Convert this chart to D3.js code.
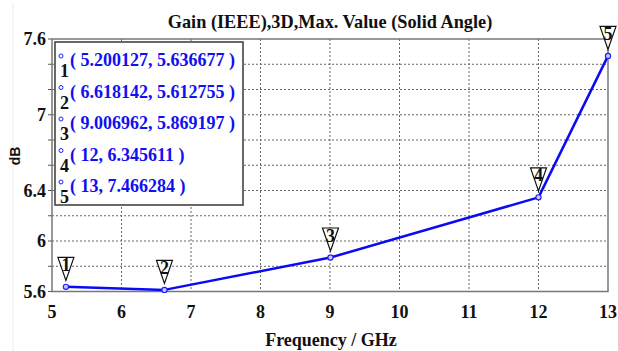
<!DOCTYPE html>
<html>
<head>
<meta charset="utf-8">
<script src="https://cdn.jsdelivr.net/npm/d3@7"></script>
<style>
  html, body { margin: 0; padding: 0; background: #fff; }
  svg { display: block; }
</style>
</head>
<body>
<svg id="chart" width="618" height="351" font-family="Liberation Serif, Times New Roman, serif" font-weight="bold"></svg>
<script>
// Marker frequencies (GHz) and gain values (dB)
const freqGHz = [5.200127, 6.618142, 9.006962, 12, 13];
const gainDb  = [5.636677, 5.612755, 5.869197, 6.345611, 7.466284];
const markerIds = ["1", "2", "3", "4", "5"];
const legendLabels = [
  "( 5.200127, 5.636677 )",
  "( 6.618142, 5.612755 )",
  "( 9.006962, 5.869197 )",
  "( 12, 6.345611 )",
  "( 13, 7.466284 )"
];
const xTicks = [5, 6, 7, 8, 9, 10, 11, 12, 13];
const yTickLabels = [5.6, 6, 6.4, 7, 7.6];
const yGrid = [5.8, 6.0, 6.2, 6.4, 6.6, 6.8, 7.0, 7.2, 7.4];

const FONT = "Liberation Serif";
const svg = d3.select("#chart");
const plot = { left: 52, right: 608, top: 39, bottom: 291.5 };

const x = d3.scaleLinear().domain([5, 13]).range([plot.left, plot.right]);
const y = d3.scaleLinear().domain([5.6, 7.6]).range([plot.bottom, plot.top]);

// faint page edge line
svg.append("line")
  .attr("x1", 13).attr("x2", 13).attr("y1", 3).attr("y2", 351)
  .attr("stroke", "#ececec").attr("stroke-width", 1);

// dotted grid
const grid = svg.append("g");
grid.selectAll("line.vg").data(xTicks.slice(1, -1)).join("line")
  .attr("x1", d => x(d)).attr("x2", d => x(d))
  .attr("y1", plot.top).attr("y2", plot.bottom)
  .attr("stroke", "#666").attr("stroke-width", 1).attr("stroke-dasharray", "2,2");
grid.selectAll("line.hg").data(yGrid).join("line")
  .attr("x1", plot.left).attr("x2", plot.right)
  .attr("y1", d => y(d)).attr("y2", d => y(d))
  .attr("stroke", "#666").attr("stroke-width", 1).attr("stroke-dasharray", "2,2");

// small outward ticks on the left edge
grid.selectAll("line.lt").data(yGrid.concat([5.6, 7.6])).join("line")
  .attr("x1", plot.left - 4).attr("x2", plot.left)
  .attr("y1", d => y(d)).attr("y2", d => y(d))
  .attr("stroke", "#555").attr("stroke-width", 1);

// frame
svg.append("rect")
  .attr("x", plot.left).attr("y", plot.top)
  .attr("width", plot.right - plot.left).attr("height", plot.bottom - plot.top)
  .attr("fill", "none").attr("stroke", "#777").attr("stroke-width", 1.5);

// axis labels
svg.append("g").selectAll("text").data(xTicks).join("text")
  .attr("font-family", FONT).attr("font-weight", "bold")
  .attr("x", d => x(d)).attr("y", 318)
  .attr("text-anchor", "middle").attr("font-size", 18).attr("fill", "#111")
  .text(d => d);
svg.append("g").selectAll("text").data(yTickLabels).join("text")
  .attr("font-family", FONT).attr("font-weight", "bold")
  .attr("x", 46).attr("y", d => y(d) + 6)
  .attr("text-anchor", "end").attr("font-size", 18).attr("fill", "#111")
  .text(d => d);

svg.append("text")
  .attr("font-family", FONT).attr("font-weight", "bold")
  .attr("x", 331).attr("y", 346).attr("text-anchor", "middle")
  .attr("font-size", 18).attr("fill", "#111").text("Frequency / GHz");
svg.append("text")
  .attr("font-family", "Liberation Sans").attr("font-weight", "bold")
  .attr("transform", "translate(20,156) rotate(-90)").attr("text-anchor", "middle")
  .attr("font-size", 14).attr("fill", "#111").text("dB");

svg.append("text")
  .attr("font-family", FONT).attr("font-weight", "bold")
  .attr("x", 330).attr("y", 28).attr("text-anchor", "middle")
  .attr("font-size", 18.3).attr("fill", "#111")
  .text("Gain (IEEE),3D,Max. Value (Solid Angle)");

// gain curve
const pts = freqGHz.map((f, i) => [f, gainDb[i]]);
svg.append("path")
  .attr("d", d3.line().x(d => x(d[0])).y(d => y(d[1]))(pts))
  .attr("fill", "none").attr("stroke", "#0a0af5").attr("stroke-width", 2.5)
  .attr("stroke-linejoin", "round");

svg.append("g").selectAll("circle").data(pts).join("circle")
  .attr("cx", d => x(d[0])).attr("cy", d => y(d[1])).attr("r", 2.6)
  .attr("fill", "#c8c8ff").attr("stroke", "#2020ff").attr("stroke-width", 1.2);

// inverted triangle markers with ids
const mk = svg.append("g").selectAll("g").data(pts).join("g")
  .attr("transform", d => `translate(${x(d[0])},${y(d[1]) - 6.5})`);
mk.append("path")
  .attr("d", "M-8,-23 L8,-23 L0,0 Z")
  .attr("fill", "#fff").attr("fill-opacity", 0.85)
  .attr("stroke", "#111").attr("stroke-width", 1.2);
mk.append("text")
  .attr("font-family", FONT).attr("font-weight", "bold")
  .attr("x", 0).attr("y", -9.5).attr("text-anchor", "middle")
  .attr("font-size", 18).attr("fill", "#111")
  .text((d, i) => markerIds[i]);

// marker legend
const lg = svg.append("g");
lg.append("rect")
  .attr("x", 55).attr("y", 42).attr("width", 188).attr("height", 163)
  .attr("fill", "#fff").attr("stroke", "#444").attr("stroke-width", 1.6);
const rows = lg.selectAll("g.row").data(legendLabels).join("g")
  .attr("transform", (d, i) => `translate(0,${66 + i * 31.5})`);
rows.append("circle")
  .attr("cx", 61).attr("cy", -10).attr("r", 2)
  .attr("fill", "#fff").attr("stroke", "#2020ff").attr("stroke-width", 1);
rows.append("text")
  .attr("font-family", FONT).attr("font-weight", "bold")
  .attr("x", 60).attr("y", 11).attr("font-size", 18).attr("fill", "#111")
  .text((d, i) => markerIds[i]);
rows.append("text")
  .attr("font-family", FONT).attr("font-weight", "bold")
  .attr("x", 70).attr("y", 0).attr("font-size", 18).attr("fill", "#1010f0")
  .text(d => d);
</script>
</body>
</html>
